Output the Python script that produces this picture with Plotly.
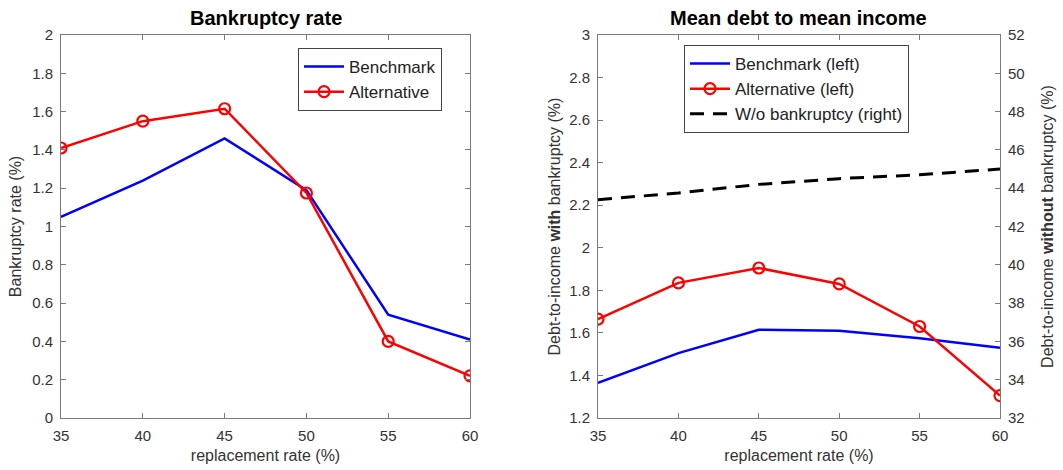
import plotly.graph_objects as go

# replacement rate (%)
replacement = [35, 40, 45, 50, 55, 60]

# Bankruptcy rate (%)
bankr_benchmark = [1.05, 1.24, 1.46, 1.19, 0.54, 0.41]
bankr_alternative = [1.41, 1.55, 1.615, 1.175, 0.40, 0.22]

# Mean debt to mean income (%)
debt_benchmark = [1.365, 1.505, 1.615, 1.61, 1.575, 1.53]
debt_alternative = [1.665, 1.835, 1.905, 1.83, 1.63, 1.305]
debt_no_bankruptcy = [43.4, 43.75, 44.2, 44.5, 44.7, 45.0]

W, H = 1063, 470
TOP, BOTTOM = 35, 418
BLUE = "#0000ff"
RED = "#ff0000"
AX = "#7a7a7a"
TXT = "#333333"
FONT = "Liberation Sans, Arial, sans-serif"

left_dom = [61 / W, 470 / W]
right_dom = [598 / W, 1000 / W]

fig = go.Figure()

fig.add_trace(go.Scatter(x=replacement, y=bankr_benchmark, mode="lines",
                         name="Benchmark", line=dict(color=BLUE, width=2.5),
                         xaxis="x", yaxis="y", legend="legend"))
fig.add_trace(go.Scatter(x=replacement, y=bankr_alternative, mode="lines+markers",
                         name="Alternative", line=dict(color=RED, width=2.5),
                         marker=dict(symbol="circle-open", size=11, color=RED,
                                     line=dict(width=2.2, color=RED)),
                         xaxis="x", yaxis="y", legend="legend"))

fig.add_trace(go.Scatter(x=replacement, y=debt_benchmark, mode="lines",
                         name="Benchmark (left)", line=dict(color=BLUE, width=2.5),
                         xaxis="x2", yaxis="y2", legend="legend2"))
fig.add_trace(go.Scatter(x=replacement, y=debt_alternative, mode="lines+markers",
                         name="Alternative (left)", line=dict(color=RED, width=2.5),
                         marker=dict(symbol="circle-open", size=11, color=RED,
                                     line=dict(width=2.2, color=RED)),
                         xaxis="x2", yaxis="y2", legend="legend2"))
fig.add_trace(go.Scatter(x=replacement, y=debt_no_bankruptcy, mode="lines",
                         name="W/o bankruptcy (right)",
                         line=dict(color="black", width=3, dash="14px,9px"),
                         xaxis="x2", yaxis="y3", legend="legend2"))

axis_common = dict(showline=True, linecolor=AX, linewidth=1, ticks="inside",
                   ticklen=5, tickcolor=AX, showgrid=False, zeroline=False,
                   automargin=False, ticklabelstandoff=4,
                   tickfont=dict(family=FONT, size=15, color=TXT))

title_font = dict(family=FONT, size=16, color=TXT)

xtick = dict(range=[35, 60], tickvals=replacement, mirror="ticks",
             title=dict(text="replacement rate (%)", standoff=6, font=title_font))

fig.update_layout(
    width=W, height=H,
    margin=dict(l=0, r=0, t=TOP, b=H - BOTTOM),
    paper_bgcolor="white", plot_bgcolor="white",
    font=dict(family=FONT, color=TXT),
    xaxis=dict(domain=left_dom, anchor="y", **xtick, **axis_common),
    yaxis=dict(range=[0, 2], dtick=0.2, anchor="x", mirror="ticks",
               title=dict(text="Bankruptcy rate (%)", standoff=6, font=title_font),
               **axis_common),
    xaxis2=dict(domain=right_dom, anchor="y2", **xtick, **axis_common),
    yaxis2=dict(range=[1.2, 3], dtick=0.2, anchor="x2",
                title=dict(text="Debt-to-income <b>with</b> bankruptcy (%)", standoff=4,
                           font=title_font),
                **axis_common),
    yaxis3=dict(range=[32, 52], dtick=2, overlaying="y2", side="right", anchor="x2",
                title=dict(text="Debt-to-income <b>without</b> bankruptcy (%)", standoff=18,
                           font=title_font),
                **axis_common),
    legend=dict(x=442 / W, y=1 - (48 - TOP) / (BOTTOM - TOP), xanchor="right", yanchor="top",
                bgcolor="white", bordercolor="#444", borderwidth=1,
                font=dict(family=FONT, size=17, color="#222"),
                tracegroupgap=0, itemwidth=40),
    legend2=dict(x=684 / W, y=1 - (45 - TOP) / (BOTTOM - TOP), xanchor="left", yanchor="top",
                 bgcolor="white", bordercolor="#444", borderwidth=1,
                 font=dict(family=FONT, size=17, color="#222"),
                 tracegroupgap=0, itemwidth=40),
    annotations=[
        dict(text="<b>Bankruptcy rate</b>", x=(left_dom[0] + left_dom[1]) / 2, y=1,
             xref="paper", yref="paper", xanchor="center", yshift=4, yanchor="bottom",
             showarrow=False, font=dict(family=FONT, size=20, color="black")),
        dict(text="<b>Mean debt to mean income</b>", x=(right_dom[0] + right_dom[1]) / 2, y=1,
             xref="paper", yref="paper", xanchor="center", yshift=4, yanchor="bottom",
             showarrow=False, font=dict(family=FONT, size=20, color="black")),
    ],
)

fig.write_html("out.html")
